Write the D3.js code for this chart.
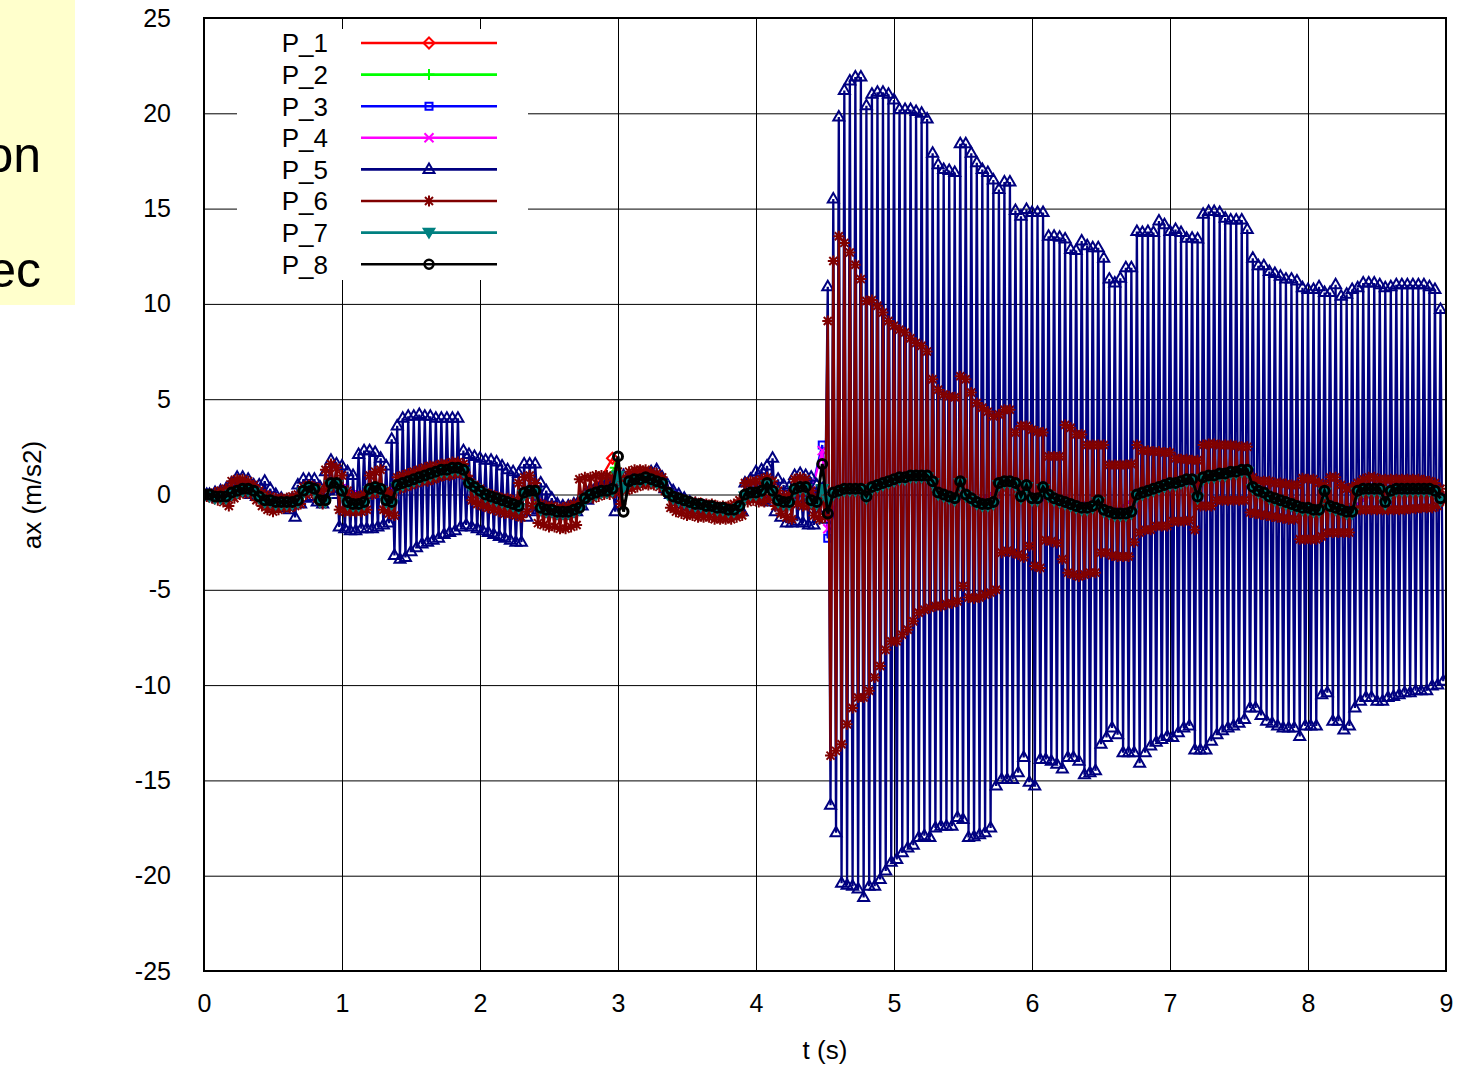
<!DOCTYPE html>
<html>
<head>
<meta charset="utf-8">
<script src="https://cdn.jsdelivr.net/npm/d3@7"></script>
<style>
  body { margin: 0; background: #fff; }
  svg text { font-family: "Liberation Sans", Arial, sans-serif; fill: #000; }
</style>
</head>
<body>
<div id="chart"></div>
<script>
// solver output step (s)
const SAMPLE_STEP = 0.02;

const xTicks = [0, 1, 2, 3, 4, 5, 6, 7, 8, 9];
const yTicks = [-25, -20, -15, -10, -5, 0, 5, 10, 15, 20, 25];
const seriesNames = ['P_1', 'P_2', 'P_3', 'P_4', 'P_5', 'P_6', 'P_7', 'P_8'];
const seriesColors = ['#ff0000', '#00ff00', '#0000ff', '#ff00ff', '#000080', '#800000', '#008080', '#000000'];
const seriesMarkers = ['diamond', 'plus', 'square', 'cross', 'triangle', 'star', 'invtri', 'circle'];

// P_5: even samples (t = 0, 0.04, 0.08 ...)
const p5Hi = [
  0, 0, 0.1, 0.2, 0.3, 0.6, 0.9, 0.9, 0.8, 0.5,
  0.5, 0.7, 0.3, 0.0, -0.2, -0.3, -0.2, 0.5, 0.8, 0.8,
  0.8, 0.4, 1.2, 1.8, 1.6, 1.5, 1.2, 1.0, 2.1, 2.3,
  2.3, 2.2, 1.9, 1.5, 2.9, 3.6, 4.0, 4.1, 4.1, 4.2,
  4.1, 4.1, 4.0, 4.0, 4.0, 4.0, 4.0, 2.3, 2.1, 2.0,
  1.9, 1.8, 1.8, 1.7, 1.5, 1.3, 1.2, 1.1, 1.6, 1.6,
  1.6, 0.6, 0.2, -0.2, -0.5, -0.6, -0.6, -0.5, -0.3, 0.0,
  0.3, 0.4, 0.5, 0.6, 0.6, 0.7, 1.0, 0.9, 1.0, 1.1,
  1.1, 1.2, 1.3, 0.9, 0.5, 0.2, 0.0, -0.2, -0.4, -0.5,
  -0.6, -0.7, -0.8, -0.8, -0.9, -0.9, -1.0, -0.8, 0.6, 0.8,
  1.2, 1.3, 1.5, 1.9, 0.8, 0.5, 0.4, 1.0, 1.1, 1.0,
  0.9, 0.5, 0.3,
  10.9, 15.5, 19.8, 21.2, 21.7, 21.9, 21.9, 20.4, 21.0, 21.1,
  21.1, 21.0, 20.7, 20.2, 20.2, 20.2, 20.1, 20.0, 19.7, 17.9,
  17.3, 17.05, 17.0, 16.9, 18.4, 18.4, 17.9, 17.4, 17.05, 16.9,
  16.5, 16.0, 16.4, 16.4, 14.9, 14.6, 14.95, 14.8, 14.8, 14.8,
  13.55, 13.55, 13.5, 13.4, 12.85, 12.8, 13.3, 13.05, 12.95, 12.95,
  12.4, 11.3, 11.1, 11.35, 11.9, 11.9, 13.8, 13.75, 13.8, 13.75,
  14.35, 14.15, 13.8, 13.9, 13.75, 13.45, 13.45, 13.4, 14.7, 14.85,
  14.85, 14.8, 14.5, 14.4, 14.4, 14.4, 13.9, 12.4, 12.0, 12.0,
  11.7, 11.6, 11.45, 11.3, 11.3, 11.2, 10.85, 10.75, 10.75, 10.9,
  10.6, 10.6, 11.0, 10.4, 10.5, 10.75, 10.85, 11.1, 11.1, 11.1,
  11.0, 10.85, 10.9, 11.0, 11.0, 11.0, 11.0, 11.0, 11.0, 10.9,
  10.75, 9.7
];
// P_5: odd samples (t = 0.02, 0.06, 0.10 ...)
const p5Lo = [
  0, -0.1, -0.2, 0.0, 0.1, 0.2, 0.3, 0.1, 0.0, -0.1,
  -0.2, -0.4, -0.5, -0.6, -0.7, -0.8, -1.2, -0.5, -0.2, -0.1,
  -0.4, -0.5, 0.2, 0.0, -1.7, -1.8, -1.9, -1.9, -1.8, -1.8,
  -1.8, -1.7, -1.6, -1.5, -3.2, -3.4, -3.3, -3.0, -2.8, -2.6,
  -2.5, -2.4, -2.3, -2.1, -2.0, -1.9, -1.7, -1.6, -1.7, -1.8,
  -1.9, -2.0, -2.1, -2.2, -2.3, -2.4, -2.5, -2.5, -1.2, -0.9,
  -0.8, -0.9, -1.0, -1.0, -1.1, -1.1, -1.0, -0.9, -0.6, -0.3,
  0.0, 0.2, 0.3, 0.4, -0.9, 0.3, 0.5, 0.6, 0.7, 0.7,
  0.8, 0.8, 0.7, 0.3, 0.0, -0.3, -0.5, -0.6, -0.7, -0.8,
  -0.9, -1.0, -1.0, -1.0, -1.1, -1.1, -1.0, -0.9, -0.2, -0.1,
  -0.2, -0.3, -0.4, -0.9, -1.2, -1.5, -1.5, -1.4, -1.5, -1.6,
  -1.6, -1.0, -1.3,
  -16.3, -17.75, -20.4, -20.5, -20.55, -20.7, -21.15, -20.55, -20.55, -20.2,
  -19.75, -19.3, -19.15, -18.8, -18.55, -18.4, -18.0, -17.9, -18.0, -17.5,
  -17.4, -17.4, -17.4, -16.95, -17.05, -18.0, -17.95, -17.85, -17.75, -17.5,
  -15.3, -14.95, -14.95, -14.95, -14.6, -13.8, -15.1, -15.3, -13.9, -13.9,
  -14.0, -14.15, -14.4, -13.8, -13.8, -14.0, -14.7, -14.6, -14.5, -13.1,
  -12.75, -12.25, -12.6, -13.55, -13.55, -13.55, -14.1, -13.55, -13.2, -13.0,
  -12.85, -12.7, -12.75, -12.5, -12.25, -12.15, -13.4, -13.4, -13.4, -12.95,
  -12.6, -12.4, -12.25, -12.15, -12.0, -11.8, -11.2, -11.2, -11.6, -11.9,
  -12.0, -12.15, -12.25, -12.25, -12.25, -12.7, -12.15, -12.15, -12.15, -10.5,
  -10.4, -11.9, -11.9, -12.35, -12.15, -11.2, -10.85, -10.65, -10.65, -10.85,
  -10.85, -10.65, -10.6, -10.5, -10.4, -10.4, -10.3, -10.3, -10.3, -10.05,
  -10.0, -9.8
];

// P_6: even samples
const p6Hi = [
  0.0, 0.0, 0.1, 0.2, 0.3, 0.7, 0.8, 0.8, 0.7, 0.5,
  0.2, 0.0, -0.1, -0.2, -0.2, -0.2, -0.1, 0.0, 0.4, 0.5,
  0.4, 0.3, 1.3, 1.6, 1.4, 1.0, 0.2, -0.1, -0.1, 0.0,
  1.0, 1.2, 1.3, 0.2, 0.0, 0.9, 1.0, 1.1, 1.2, 1.3,
  1.4, 1.5, 1.5, 1.6, 1.6, 1.7, 1.7, 1.6, 0.8, 0.5,
  0.3, 0.1, 0.0, -0.1, -0.2, -0.2, -0.3, 0.6, 0.9, 1.0,
  0.6, -0.5, -0.6, -0.6, -0.7, -0.7, -0.6, -0.5, 0.8, 0.9,
  0.9, 1.0, 1.0, 1.0, 0.9, 1.2, 0.9, 1.2, 1.3, 1.3,
  1.3, 1.2, 1.1, 0.9, 0.1, -0.1, -0.2, -0.3, -0.4, -0.4,
  -0.5, -0.5, -0.5, -0.6, -0.6, -0.6, -0.5, -0.3, 0.6, 0.7,
  0.7, 0.8, 0.9, 0.7, 0.2, -0.1, 0.0, 0.8, 0.9, 0.8,
  0.2, -0.2, 0.0,
  9.1, 12.25, 13.55, 13.2, 12.7, 12.05, 11.3, 10.15, 10.2, 9.9,
  9.55, 9.1, 8.85, 8.65, 8.5, 8.2, 7.95, 7.8, 7.5, 6.05,
  5.5, 5.25, 5.15, 5.1, 6.2, 6.05, 5.35, 4.8, 4.55, 4.35,
  4.1, 4.2, 4.45, 4.45, 3.25, 3.6, 3.6, 3.4, 3.3, 3.25,
  2.0, 2.0, 2.0, 3.65, 3.5, 3.15, 3.15, 2.6, 2.6, 2.6,
  2.6, 1.55, 1.55, 1.55, 1.55, 1.6, 2.6, 2.3, 2.3, 2.25,
  2.25, 2.2, 2.2, 1.9, 1.85, 1.85, 1.8, 1.8, 2.6, 2.65,
  2.65, 2.6, 2.6, 2.6, 2.55, 2.5, 2.5, 0.9, 0.7, 0.7,
  0.7, 0.6, 0.6, 0.55, 0.5, 0.5, 0.85, 0.8, 0.8, 0.6,
  0.5, 0.9, 0.9, 0.5, 0.3, 0.4, 0.6, 0.8, 0.9, 0.9,
  0.8, 0.8, 0.8, 0.8, 0.8, 0.8, 0.8, 0.8, 0.75, 0.7,
  0.6, 0.3
];
// P_6: odd samples
const p6Lo = [
  -0.1, -0.2, -0.3, -0.4, -0.6, -0.2, 0.0, 0.1, 0.0, -0.3,
  -0.6, -0.8, -0.9, -0.8, -0.7, -0.7, -0.6, -0.5, 0.0, 0.1,
  -0.2, -0.5, 0.3, 0.4, -0.8, -0.9, -0.9, -0.9, -0.9, -0.8,
  0.0, 0.1, -0.8, -1.0, -1.1, 0.3, 0.4, 0.5, 0.6, 0.7,
  0.7, 0.8, 0.9, 1.0, 1.0, 1.1, 1.1, 1.0, -0.3, -0.5,
  -0.6, -0.7, -0.8, -0.9, -1.0, -1.0, -1.1, -1.2, -0.9, -0.6,
  -1.5, -1.6, -1.7, -1.7, -1.8, -1.8, -1.7, -1.6, -0.4, -0.2,
  -0.2, -0.1, 0.0, 0.0, 0.1, -0.5, 0.2, 0.3, 0.4, 0.5,
  0.5, 0.5, 0.4, 0.2, -0.7, -0.9, -1.0, -1.1, -1.1, -1.2,
  -1.2, -1.2, -1.3, -1.3, -1.3, -1.3, -1.2, -1.1, -0.4, -0.3,
  -0.4, -0.4, -0.2, -0.6, -1.0, -1.2, -1.3, -0.5, -0.6, -0.6,
  -1.1, -1.3, -1.2,
  -13.7, -13.45, -13.1, -12.05, -11.2, -10.65, -10.65, -10.3, -9.6, -9.0,
  -8.15, -7.7, -7.7, -7.35, -7.1, -6.65, -6.2, -6.05, -5.95, -5.85,
  -5.85, -5.75, -5.7, -5.6, -4.8, -5.4, -5.45, -5.4, -5.25, -5.15,
  -5.0, -3.05, -2.95, -3.05, -3.15, -3.3, -2.7, -3.75, -3.85, -2.4,
  -2.45, -2.55, -3.4, -4.1, -4.2, -4.3, -4.2, -4.1, -4.1, -3.05,
  -3.05, -3.2, -3.25, -3.25, -3.25, -2.5, -2.0, -1.85, -1.85, -1.65,
  -1.65, -1.65, -1.4, -1.4, -1.4, -1.35, -1.85, -0.6, -0.6, -0.6,
  -0.3, -0.3, -0.3, -0.3, -0.3, -0.3, -0.95, -1.0, -1.05, -1.1,
  -1.15, -1.2, -1.25, -1.3, -1.3, -2.35, -2.35, -2.35, -2.35, -2.2,
  -2.0, -2.0, -2.0, -2.0, -2.0, -0.8, -0.8, -0.8, -0.8, -0.8,
  -0.8, -0.8, -0.8, -0.8, -0.8, -0.75, -0.75, -0.7, -0.7, -0.7,
  -0.6, -0.3
];

// P_7 and P_8 on the even samples only
const p7 = [
  -0.1, -0.1, -0.2, -0.2, -0.2, 0.0, 0.1, 0.2, 0.2, 0.1,
  -0.2, -0.4, -0.4, -0.5, -0.5, -0.5, -0.5, -0.4, 0.1, 0.3,
  0.2, -0.4, -0.4, 0.5, 0.5, 0.1, -0.5, -0.6, -0.6, -0.5,
  0.2, 0.3, 0.2, -0.4, -0.5, 0.4, 0.5, 0.6, 0.7, 0.8,
  0.9, 1.0, 1.1, 1.2, 1.2, 1.3, 1.3, 1.2, 0.5, 0.3,
  0.1, -0.1, -0.2, -0.3, -0.4, -0.5, -0.6, -0.7, 0.0, 0.1,
  0.1, -0.8, -0.9, -0.9, -1.0, -1.0, -1.0, -0.9, -0.8, -0.3,
  -0.1, 0.0, 0.1, 0.1, 0.2, 1.0, 0.4, 0.6, 0.7, 0.7,
  0.8, 0.7, 0.6, 0.5, 0.0, -0.2, -0.3, -0.4, -0.5, -0.6,
  -0.6, -0.7, -0.7, -0.8, -0.8, -0.9, -0.9, -0.7, -0.1, 0.0,
  0.0, 0.1, 0.5, 0.1, -0.4, -0.5, -0.5, 0.2, 0.3, 0.3,
  -0.4, -0.5, 0.3, -0.3, 0.0, 0.1, 0.2, 0.2, 0.2, 0.2,
  -0.2, 0.3, 0.4, 0.5, 0.6, 0.7, 0.8, 0.8, 0.9, 0.9,
  0.9, 0.9, 0.6, 0.0, -0.1, -0.2, -0.3, 0.6, -0.1, -0.3,
  -0.5, -0.6, -0.6, -0.5, 0.5, 0.6, 0.6, 0.5, -0.2, 0.4,
  -0.3, -0.3, 0.3, -0.1, -0.3, -0.4, -0.5, -0.6, -0.7, -0.8,
  -0.8, -0.7, -0.4, -0.9, -1.0, -1.1, -1.1, -1.1, -1.0, -0.1,
  0.0, 0.1, 0.2, 0.3, 0.4, 0.5, 0.5, 0.6, 0.7, 0.7,
  -0.2, 0.8, 0.9, 0.9, 1.0, 1.0, 1.1, 1.1, 1.2, 1.2,
  0.3, 0.1, 0.0, -0.2, -0.3, -0.4, -0.5, -0.6, -0.7, -0.8,
  -0.8, -0.9, -0.9, 0.1, -0.7, -0.8, -0.9, -1.0, -1.0, 0.1,
  0.2, 0.2, 0.2, 0.2, -0.5, 0.1, 0.2, 0.2, 0.2, 0.2,
  0.2, 0.2, 0.2, 0.1, -0.3
];
const p8 = [
  0.0, 0.0, -0.1, -0.1, -0.1, 0.1, 0.2, 0.3, 0.3, 0.2,
  -0.1, -0.3, -0.3, -0.4, -0.4, -0.4, -0.4, -0.3, 0.2, 0.4,
  0.3, -0.3, -0.3, 0.6, 0.6, 0.2, -0.4, -0.5, -0.5, -0.4,
  0.3, 0.4, 0.3, -0.3, -0.4, 0.5, 0.6, 0.7, 0.8, 0.9,
  1.0, 1.1, 1.2, 1.3, 1.3, 1.4, 1.4, 1.3, 0.6, 0.4,
  0.2, 0.0, -0.1, -0.2, -0.3, -0.4, -0.5, -0.6, 0.1, 0.2,
  0.2, -0.7, -0.8, -0.8, -0.9, -0.9, -0.9, -0.8, -0.7, -0.2,
  0.0, 0.1, 0.2, 0.2, 0.3, 2.0, -0.9, 0.7, 0.8, 0.8,
  0.9, 0.8, 0.7, 0.6, 0.1, -0.1, -0.2, -0.3, -0.4, -0.5,
  -0.5, -0.6, -0.6, -0.7, -0.7, -0.8, -0.8, -0.6, 0.0, 0.1,
  0.1, 0.2, 0.6, 0.2, -0.3, -0.4, -0.4, 0.3, 0.4, 0.4,
  -0.3, -0.4, 1.6, -1.0, 0.1, 0.2, 0.3, 0.3, 0.3, 0.3,
  -0.1, 0.4, 0.5, 0.6, 0.7, 0.8, 0.9, 0.9, 1.0, 1.0,
  1.0, 1.0, 0.7, 0.1, 0.0, -0.1, -0.2, 0.7, 0.0, -0.2,
  -0.4, -0.5, -0.5, -0.4, 0.6, 0.7, 0.7, 0.6, -0.1, 0.5,
  -0.2, -0.2, 0.4, 0.0, -0.2, -0.3, -0.4, -0.5, -0.6, -0.7,
  -0.7, -0.6, -0.3, -0.8, -0.9, -1.0, -1.0, -1.0, -0.9, 0.0,
  0.1, 0.2, 0.3, 0.4, 0.5, 0.6, 0.6, 0.7, 0.8, 0.8,
  -0.1, 0.9, 1.0, 1.0, 1.1, 1.1, 1.2, 1.2, 1.3, 1.3,
  0.4, 0.2, 0.1, -0.1, -0.2, -0.3, -0.4, -0.5, -0.6, -0.7,
  -0.7, -0.8, -0.8, 0.2, -0.6, -0.7, -0.8, -0.9, -0.9, 0.2,
  0.3, 0.3, 0.3, 0.3, -0.4, 0.2, 0.3, 0.3, 0.3, 0.3,
  0.3, 0.3, 0.3, 0.2, -0.2
];

// P_1..P_4 are mostly hidden under the others, read at a few times: [t, ax]
const p1 = [[0, 0], [0.2, 0.1], [0.4, -0.2], [0.6, -0.4], [0.8, 0.2], [1.0, 0.3], [1.2, 0.0], [1.4, 0.4], [1.6, 0.9],
  [1.8, 1.2], [2.0, 0.1], [2.2, -0.4], [2.4, -0.1], [2.6, -0.8], [2.8, -0.1], [2.96, 1.9], [3.04, 0.5], [3.2, 0.8],
  [3.4, 0.0], [3.6, -0.5], [3.8, -0.7], [4.0, 0.0], [4.2, -0.3], [4.4, 0.1], [4.6, 0.2], [4.8, 0.2], [5.0, 0.7],
  [5.2, 0.9], [5.4, -0.1], [5.6, -0.4], [5.8, 0.5], [6.0, -0.2], [6.2, -0.4], [6.4, -0.6], [6.6, -0.9], [6.8, 0.1],
  [7.0, 0.4], [7.2, 0.6], [7.4, 1.0], [7.56, 1.2], [7.7, 0.0], [7.9, -0.5], [8.1, -0.7], [8.3, -0.8], [8.5, 0.2],
  [8.7, 0.2], [9.0, -0.2]];
const p2 = [[0, 0], [0.2, 0.1], [0.4, -0.2], [0.6, -0.4], [0.8, 0.2], [1.0, 0.3], [1.2, 0.0], [1.4, 0.4], [1.6, 0.9],
  [1.8, 1.2], [2.0, 0.1], [2.2, -0.4], [2.4, -0.1], [2.6, -0.8], [2.8, -0.1], [2.98, 1.4], [3.04, 0.6], [3.2, 0.8],
  [3.4, 0.0], [3.6, -0.5], [3.8, -0.7], [4.0, 0.0], [4.2, -0.3], [4.4, 0.1], [4.6, 0.2], [4.8, 0.2], [5.0, 0.7],
  [5.2, 0.9], [5.4, -0.1], [5.6, -0.4], [5.8, 0.5], [6.0, -0.2], [6.2, -0.4], [6.4, -0.6], [6.6, -0.9], [6.8, 0.1],
  [7.0, 0.4], [7.2, 0.6], [7.4, 1.0], [7.56, 1.2], [7.7, 0.0], [7.9, -0.5], [8.1, -0.7], [8.3, -0.8], [8.5, 0.2],
  [8.7, 0.2], [9.0, -0.2]];
const p3 = [[0, 0], [0.2, 0.1], [0.4, -0.2], [0.6, -0.4], [0.8, 0.2], [1.0, 0.3], [1.2, 0.0], [1.4, 0.4], [1.6, 0.9],
  [1.8, 1.2], [2.0, 0.1], [2.2, -0.4], [2.4, -0.1], [2.6, -0.8], [2.8, -0.1], [3.0, 0.4], [3.2, 0.8],
  [3.4, 0.0], [3.6, -0.5], [3.8, -0.7], [4.0, 0.0], [4.2, -0.3], [4.4, 0.1], [4.48, 2.6], [4.52, -2.3], [4.6, 0.2],
  [4.8, 0.2], [5.0, 0.7], [5.2, 0.9], [5.4, -0.1], [5.6, -0.4], [5.8, 0.5], [6.0, -0.2], [6.2, -0.4], [6.4, -0.6],
  [6.6, -0.9], [6.8, 0.1], [7.0, 0.4], [7.2, 0.6], [7.4, 1.0], [7.56, 1.2], [7.7, 0.0], [7.9, -0.5], [8.1, -0.7],
  [8.3, -0.8], [8.5, 0.2], [8.7, 0.2], [9.0, -0.2]];
const p4 = [[0, 0], [0.2, 0.1], [0.4, -0.2], [0.6, -0.4], [0.8, 0.2], [1.0, 0.3], [1.2, 0.0], [1.4, 0.4], [1.6, 0.9],
  [1.8, 1.2], [2.0, 0.1], [2.2, -0.4], [2.4, -0.1], [2.6, -0.8], [2.8, -0.1], [3.0, 0.4], [3.2, 0.8],
  [3.4, 0.0], [3.6, -0.5], [3.8, -0.7], [4.0, 0.0], [4.2, -0.3], [4.4, 0.1], [4.48, 2.3], [4.52, -1.8], [4.6, 0.2],
  [4.8, 0.2], [5.0, 0.7], [5.2, 0.9], [5.4, -0.1], [5.6, -0.4], [5.8, 0.5], [6.0, -0.2], [6.2, -0.4], [6.4, -0.6],
  [6.6, -0.9], [6.8, 0.1], [7.0, 0.4], [7.2, 0.6], [7.4, 1.0], [7.56, 1.2], [7.7, 0.0], [7.9, -0.5], [8.1, -0.7],
  [8.3, -0.8], [8.5, 0.2], [8.7, 0.2], [9.0, -0.2]];

// helpers to turn the arrays above into {t, v} points
function zigzag(hi, lo) {
  const pts = [];
  hi.forEach((v, i) => {
    pts.push({ t: 2 * i * SAMPLE_STEP, v: v });
    if (i < lo.length) pts.push({ t: (2 * i + 1) * SAMPLE_STEP, v: lo[i] });
  });
  return pts;
}
function evenSamples(vals) {
  return vals.map((v, i) => ({ t: 2 * i * SAMPLE_STEP, v: v }));
}
function fromPairs(arr) {
  return arr.map(d => ({ t: d[0], v: d[1] }));
}

// gnuplot-like point shapes, centred on 0,0
const markerShapes = {
  diamond: 'M0,-5.5L5.5,0L0,5.5L-5.5,0Z',
  plus: 'M-5.5,0H5.5M0,-5.5V5.5',
  square: 'M-3.5,-3.5H3.5V3.5H-3.5Z',
  cross: 'M-4.5,-4.5L4.5,4.5M-4.5,4.5L4.5,-4.5',
  triangle: 'M0,-6L5.5,3.5L-5.5,3.5Z',
  star: 'M-5.5,0H5.5M0,-5.5V5.5M-4,-4L4,4M-4,4L4,-4',
  invtri: 'M0,5L5.3,-3.8L-5.3,-3.8Z',
  circle: 'M4.5,0A4.5,4.5 0 1,1 -4.5,0A4.5,4.5 0 1,1 4.5,0'
};

class AccelPlot {

  constructor(_config, data) {
    this.config = {
      parentElement: _config.parentElement, containerWidth: 1479, containerHeight: 1068,
      margin: {
        top: 18, right: 33, bottom: 97, left: 204
      }
    }
    this.data = data;
    this.initVis();
  }

  initVis() {
    let vis = this;

    vis.width = vis.config.containerWidth - vis.config.margin.left - vis.config.margin.right;
    vis.height = vis.config.containerHeight - vis.config.margin.top - vis.config.margin.bottom;

    vis.xScale = d3.scaleLinear()
      .domain([0, 9])
      .range([0, vis.width]);

    vis.yScale = d3.scaleLinear()
      .domain([-25, 25])
      .range([vis.height, 0]);

    // plain hyphen for negatives, as in the original
    vis.xAxis = d3.axisBottom(vis.xScale)
      .tickValues(xTicks)
      .tickSize(-vis.height)
      .tickPadding(23)
      .tickFormat(d => String(d));

    vis.yAxis = d3.axisLeft(vis.yScale)
      .tickValues(yTicks)
      .tickSize(-vis.width)
      .tickPadding(33)
      .tickFormat(d => String(d));

    vis.svg = d3.select(vis.config.parentElement).append('svg')
      .attr('width', vis.config.containerWidth)
      .attr('height', vis.config.containerHeight);

    // piece of the slide behind the picture
    vis.svg.append('rect')
      .attr('x', 0).attr('y', 0)
      .attr('width', 75).attr('height', 305)
      .attr('fill', '#ffffcc');
    vis.svg.append('text')
      .attr('x', 41).attr('y', 172)
      .style('text-anchor', 'end')
      .style('font-size', '50px')
      .text('on');
    vis.svg.append('text')
      .attr('x', 41).attr('y', 287)
      .style('text-anchor', 'end')
      .style('font-size', '50px')
      .text('ec');

    vis.chart = vis.svg.append('g')
      .attr('transform', `translate(${vis.config.margin.left},${vis.config.margin.top})`);

    vis.xAxisG = vis.chart.append('g')
      .attr('class', 'axis x-axis')
      .attr('transform', `translate(0,${vis.height})`);

    vis.yAxisG = vis.chart.append('g')
      .attr('class', 'axis y-axis');

    // key background hides the grid behind it
    vis.legendBg = vis.chart.append('rect')
      .attr('x', 33).attr('y', 11)
      .attr('width', 291).attr('height', 251)
      .attr('fill', '#fff');

    vis.svg.append('clipPath').attr('id', 'plot-clip')
      .append('rect')
      .attr('width', vis.width).attr('height', vis.height);

    vis.plotArea = vis.chart.append('g')
      .attr('clip-path', 'url(#plot-clip)');

    vis.frame = vis.chart.append('rect')
      .attr('width', vis.width).attr('height', vis.height)
      .attr('fill', 'none')
      .attr('stroke', '#000')
      .attr('stroke-width', 2);

    vis.legend = vis.chart.append('g')
      .attr('class', 'legend');

    vis.chart.append('text')
      .attr('class', 'axis-title')
      .attr('x', vis.width / 2)
      .attr('y', 1059 - vis.config.margin.top)
      .style('text-anchor', 'middle')
      .style('font-size', '26px')
      .text('t (s)');

    vis.svg.append('text')
      .attr('class', 'axis-title')
      .attr('transform', 'translate(41,495) rotate(-90)')
      .style('text-anchor', 'middle')
      .style('font-size', '26px')
      .text('ax (m/s2)');

    vis.updateVis();
  }

  updateVis() {
    let vis = this;
    vis.line = d3.line()
      .x(d => vis.xScale(d.t))
      .y(d => vis.yScale(d.v));
    vis.renderVis();
  }

  renderVis() {
    let vis = this;

    // axes as grid
    vis.xAxisG.call(vis.xAxis)
      .call(g => g.select('.domain').remove());
    vis.yAxisG.call(vis.yAxis)
      .call(g => g.select('.domain').remove());

    vis.chart.selectAll('.axis .tick line')
      .attr('stroke', '#000')
      .attr('stroke-width', 1);
    vis.chart.selectAll('.axis .tick text')
      .attr('fill', '#000')
      .style('font-size', '25px')
      .style('font-family', '"Liberation Sans", Arial, sans-serif');

    // series, in plotting order (P_8 ends on top)
    const seriesG = vis.plotArea.selectAll('.series')
      .data(vis.data)
      .join('g')
      .attr('class', 'series');

    seriesG.append('path')
      .attr('d', d => vis.line(d.points))
      .attr('fill', 'none')
      .attr('stroke', d => d.color)
      .attr('stroke-width', d => d.marker === 'circle' ? 3 : 2.3);

    seriesG.each(function (s) {
      d3.select(this).selectAll('.point')
        .data(s.points)
        .join('path')
        .attr('class', 'point')
        .attr('transform', p => `translate(${vis.xScale(p.t)},${vis.yScale(p.v)})`)
        .attr('d', markerShapes[s.marker])
        .attr('fill', s.marker === 'invtri' ? s.color : 'none')
        .attr('stroke', s.color)
        .attr('stroke-width', s.marker === 'circle' ? 3 : 2);
    });

    // key
    const rows = vis.legend.selectAll('.key-row')
      .data(vis.data)
      .join('g')
      .attr('class', 'key-row')
      .attr('transform', (d, i) => `translate(0,${43 - vis.config.margin.top + i * 31.6})`);

    rows.append('text')
      .attr('x', 328 - vis.config.margin.left)
      .attr('dy', '0.36em')
      .style('text-anchor', 'end')
      .style('font-size', '26px')
      .text(d => d.name);

    rows.append('line')
      .attr('x1', 361 - vis.config.margin.left)
      .attr('x2', 497 - vis.config.margin.left)
      .attr('stroke', d => d.color)
      .attr('stroke-width', 2.6);

    rows.append('path')
      .attr('transform', `translate(${429 - vis.config.margin.left},0)`)
      .attr('d', d => markerShapes[d.marker])
      .attr('fill', d => d.marker === 'invtri' ? d.color : 'none')
      .attr('stroke', d => d.color)
      .attr('stroke-width', d => d.marker === 'circle' ? 2.4 : 2);
  }
}

const pointSets = [
  fromPairs(p1), fromPairs(p2), fromPairs(p3), fromPairs(p4),
  zigzag(p5Hi, p5Lo), zigzag(p6Hi, p6Lo),
  evenSamples(p7), evenSamples(p8)
];

const seriesData = seriesNames.map((name, i) => ({
  name: name,
  color: seriesColors[i],
  marker: seriesMarkers[i],
  points: pointSets[i]
}));

const accelPlot = new AccelPlot({ parentElement: '#chart' }, seriesData);
</script>
</body>
</html>
